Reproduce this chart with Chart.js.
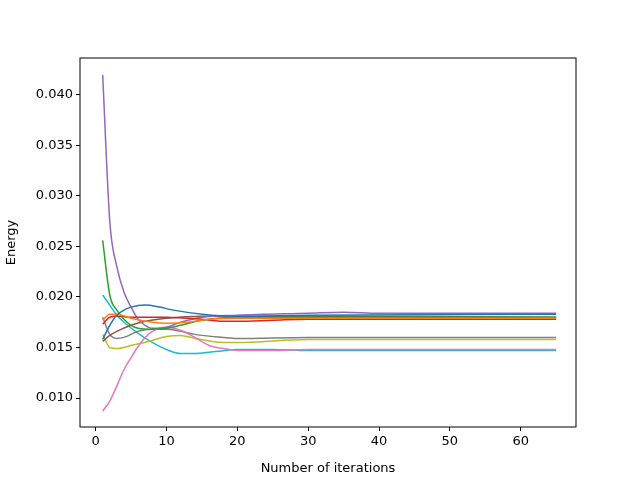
<!DOCTYPE html>
<html><head><script src="https://cdn.jsdelivr.net/npm/chart.js@4"></script>
<style>body{margin:0;background:#fff}</style></head>
<body><div style="width:640px;height:480px"><canvas id="c"></canvas></div>
<script>
const xTicks=[0,10,20,30,40,50,60];
const yTicks=[0.010,0.015,0.020,0.025,0.030,0.035,0.040];
const blueX=[1,2,3,4,5,7,9,11,15,20,30,65];
const blueY=[0.0158,0.0172,0.0182,0.0187,0.0190,0.0192,0.0190,0.0187,0.0183,0.0181,0.0182,0.0183];
const orangeX=[1,2,3,5,8,10,13,16,20,65];
const orangeY=[0.0177,0.0183,0.0183,0.0179,0.0175,0.0174,0.0175,0.0178,0.0179,0.0179];
const greenX=[1,2,3,4,5,6,8,10,12,15,20,30,65];
const greenY=[0.0256,0.0202,0.0187,0.0178,0.0172,0.0169,0.0168,0.0169,0.0172,0.0177,0.0180,0.0180,0.0180];
const redX=[1,2,3,5,10,15,18,20,25,30,65];
const redY=[0.0173,0.0180,0.0181,0.0180,0.0180,0.0178,0.0176,0.0176,0.0177,0.0178,0.0178];
const purpleX=[1,2,3,4,5,6,7,8,10,12,15,20,30,35,40,65];
const purpleY=[0.0420,0.0275,0.0230,0.0205,0.0190,0.0178,0.0172,0.0169,0.0170,0.0175,0.0180,0.0182,0.0184,0.0185,0.0184,0.0184];
const brownX=[1,2,3,5,7,10,15,20,30,65];
const brownY=[0.0156,0.0162,0.0166,0.0172,0.0176,0.0179,0.0181,0.0181,0.0181,0.0180];
const pinkX=[1,2,3,4,5,6,7,8,10,12,14,16,18,20,25,30,65];
const pinkY=[0.0087,0.0097,0.0112,0.0128,0.0140,0.0151,0.0160,0.0166,0.0170,0.0167,0.0160,0.0152,0.0149,0.0147,0.0147,0.0148,0.0148];
const grayX=[1,2,3,4,6,8,10,12,14,18,20,30,65];
const grayY=[0.0180,0.0163,0.0159,0.0160,0.0166,0.0168,0.0168,0.0166,0.0163,0.0160,0.0159,0.0160,0.0160];
const oliveX=[1,2,3,5,8,10,12,14,18,20,30,65];
const oliveY=[0.0163,0.0150,0.0149,0.0152,0.0157,0.0161,0.0162,0.0159,0.0155,0.0155,0.0158,0.0158];
const cyanX=[1,2,3,4,6,8,10,12,14,17,20,25,30,65];
const cyanY=[0.0202,0.0192,0.0182,0.0175,0.0164,0.0155,0.0148,0.0144,0.0144,0.0146,0.0148,0.0148,0.0147,0.0147];
const series=[[blueX,blueY,'#1f77b4'],[orangeX,orangeY,'#ff7f0e'],[greenX,greenY,'#2ca02c'],[redX,redY,'#d62728'],[purpleX,purpleY,'#9467bd'],[brownX,brownY,'#8c564b'],[pinkX,pinkY,'#e377c2'],[grayX,grayY,'#7f7f7f'],[oliveX,oliveY,'#bcbd22'],[cyanX,cyanY,'#17becf']];
const datasets=series.map(([xs,ys,c])=>({data:xs.map((x,i)=>({x,y:ys[i]})),borderColor:c,borderWidth:1.5,pointRadius:0,fill:false,cubicInterpolationMode:'monotone'}));
const frame={id:'frame',afterDraw(ch){const a=ch.chartArea,g=ch.ctx;g.save();g.strokeStyle='#000';g.lineWidth=1;g.strokeRect(a.left,a.top,a.right-a.left,a.bottom-a.top);g.restore();}};
Chart.defaults.font.family='DejaVu Sans';Chart.defaults.font.size=13;Chart.defaults.color='#000';
new Chart(document.getElementById('c'),{type:'line',data:{datasets},plugins:[frame],
options:{responsive:true,maintainAspectRatio:false,animation:false,
layout:{padding:{left:0,right:64,top:58,bottom:0}},
plugins:{legend:{display:false},tooltip:{enabled:false}},
scales:{
x:{type:'linear',min:-2.2,max:67.8,afterBuildTicks:s=>{s.ticks=xTicks.map(v=>({value:v}));},afterFit:s=>{s.height=53;},
 grid:{drawOnChartArea:false,color:'#000',tickLength:4},border:{display:false},ticks:{maxRotation:0,padding:3},
 title:{display:true,text:'Number of iterations',padding:{top:0}}},
y:{min:0.00713,max:0.04366,afterBuildTicks:s=>{s.ticks=yTicks.map(v=>({value:v}));},afterFit:s=>{s.width=80;},
 grid:{drawOnChartArea:false,color:'#000',tickLength:4},border:{display:false},ticks:{callback:v=>v.toFixed(3),padding:3},
 title:{display:true,text:'Energy',padding:{bottom:2}}}
}}});
</script></body></html>
